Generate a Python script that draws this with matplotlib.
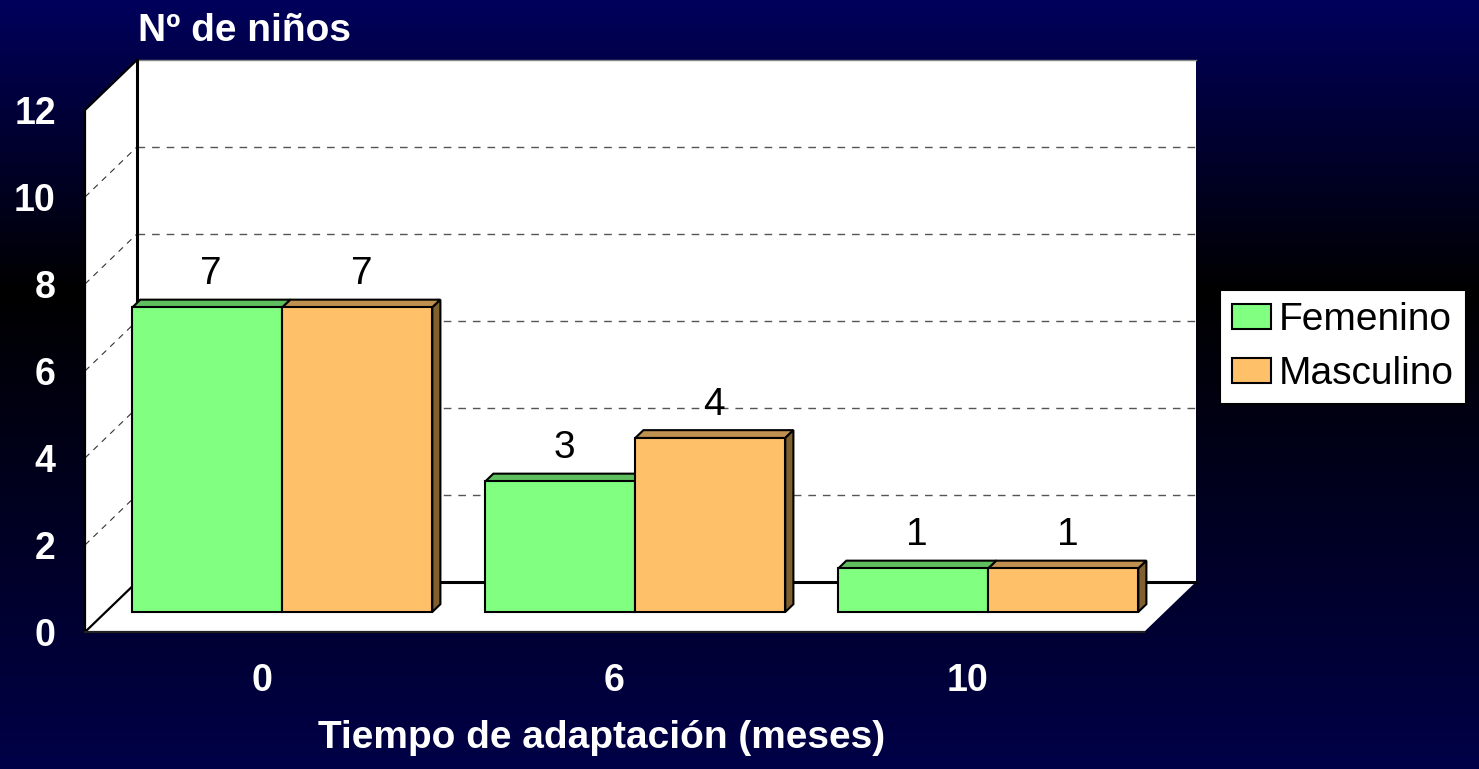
import matplotlib
matplotlib.use('Agg')
import matplotlib.pyplot as plt
import numpy as np
from matplotlib.patches import Polygon, Rectangle, Patch

plt.rcParams['font.family'] = ['Liberation Sans', 'DejaVu Sans']

# data
categories = ['0', '6', '10']
femenino = [7, 3, 1]
masculino = [7, 4, 1]
series_names = ['Femenino', 'Masculino']
y_ticks = [0, 2, 4, 6, 8, 10, 12]

# colours
green_front, green_top = '#80ff80', '#5fbf5f'
orange_front, orange_top, orange_side = '#ffc06a', '#c09050', '#80602f'

W, H = 1479, 769
fig = plt.figure(figsize=(W / 100, H / 100), dpi=100)

# background gradient: navy -> black -> navy
bg = fig.add_axes([0, 0, 1, 1], zorder=-10)
rows = np.arange(H)
blue = np.interp(rows, [0, 290, 769], [0x5c, 0x00, 0x48]) / 255
grad = np.zeros((H, 1, 3))
grad[:, 0, 2] = blue
bg.imshow(grad, aspect='auto', extent=[0, 1, 0, 1], origin='upper')
bg.axis('off')

# main axes covers the front plane of the 3d box
ax = fig.add_axes([85 / W, (H - 632) / H, 1059 / W, 522 / H])
ax.set_xlim(-0.5, 2.5)
ax.set_ylim(0, 12)
ax.patch.set_visible(False)
for s in ax.spines.values():
    s.set_visible(False)

# depth of the box in data units
DX, DY = 0.147, 1.15
bdx, bdy = 0.4 * DX, 0.4 * DY      # bars sit part way back
tdx, tdy = 0.023, 0.18             # thickness of the bars
w = 0.425
x0, x1 = -0.5, 2.5

# back wall, left wall, floor
ax.add_patch(Rectangle((x0 + DX, DY), x1 - x0, 12, facecolor='white',
                       edgecolor='none', zorder=1, clip_on=False))
ax.add_patch(Polygon([(x0, 0), (x0, 12), (x0 + DX, 12 + DY), (x0 + DX, DY)],
                     closed=True, facecolor='white', edgecolor='none', zorder=1,
                     clip_on=False))
ax.add_patch(Polygon([(x0, 0), (x1, 0), (x1 + DX, DY), (x0 + DX, DY)],
                     closed=True, facecolor='white', edgecolor='none', zorder=1,
                     clip_on=False))

# gridlines on back and left walls
for v in y_ticks[1:-1]:
    ax.plot([x0 + DX, x1 + DX], [v + DY, v + DY], color='#555555', lw=1,
            dashes=(5.5, 5), zorder=2, clip_on=False)
    ax.plot([x0, x0 + DX], [v, v + DY], color='#333333', lw=0.8,
            dashes=(5.5, 5), zorder=2, clip_on=False)

# box edges
ax.plot([x0 + DX, x1 + DX], [12 + DY, 12 + DY], color='#888888', lw=1,
        zorder=2, clip_on=False)
ax.plot([x0 + DX, x0 + DX, x1 + DX], [12 + DY, DY, DY], color='black', lw=2.2,
        zorder=2, solid_capstyle='projecting', clip_on=False)
ax.plot([x0 + DX, x0, x0, x0 + DX], [12 + DY, 12, 0, DY], color='black', lw=1.6,
        zorder=2, clip_on=False)
ax.plot([x0, x1], [0, 0], color='#222222', lw=1.6, zorder=2, clip_on=False)

x = np.arange(len(categories))

# bars (front faces) via ax.bar
gx = x - w / 2 + bdx
ox = x + w / 2 + bdx
ax.bar(gx, femenino, width=w, bottom=bdy, color=green_front, edgecolor='black',
       linewidth=1.5, zorder=5, clip_on=False)
ax.bar(ox, masculino, width=w, bottom=bdy, color=orange_front, edgecolor='black',
       linewidth=1.5, zorder=5, clip_on=False)

# top and side faces
for cx, v, ftop in list(zip(gx, femenino, [green_top] * 3)) + \
        list(zip(ox, masculino, [orange_top] * 3)):
    l, r = cx - w / 2, cx + w / 2
    t = v + bdy
    ax.add_patch(Polygon([(l, t), (l + tdx, t + tdy), (r + tdx, t + tdy), (r, t)],
                         closed=True, facecolor=ftop, edgecolor='black',
                         linewidth=1.5, zorder=4, clip_on=False))
for cx, v in zip(ox, masculino):
    r = cx + w / 2
    t = v + bdy
    ax.add_patch(Polygon([(r, bdy), (r + tdx, bdy + tdy), (r + tdx, t + tdy), (r, t)],
                         closed=True, facecolor=orange_side, edgecolor='black',
                         linewidth=1.5, zorder=4, clip_on=False))

# value labels
for cx, v in list(zip(gx, femenino)) + list(zip(ox, masculino)):
    ax.text(cx + tdx / 2, v + bdy + tdy + 0.35, str(v), ha='center',
            va='baseline', fontsize=28, color='black', zorder=6)

# ticks
ax.set_yticks(y_ticks)
ax.set_yticklabels([str(t) for t in y_ticks], fontsize=27, fontweight='bold',
                   color='white')
ax.set_xticks(x)
ax.set_xticklabels(categories, fontsize=27, fontweight='bold', color='white')
ax.tick_params(axis='y', length=0, pad=21)
ax.tick_params(axis='x', length=0, pad=22)

# titles
fig.text(138 / W, 1 - 31 / H, 'Nº de niños', fontsize=28, fontweight='bold',
         color='white', ha='left', va='center')
fig.text(602 / W, 1 - 738 / H, 'Tiempo de adaptación (meses)', fontsize=28,
         fontweight='bold', color='white', ha='center', va='center')

# legend
handles = [Patch(facecolor=green_front, edgecolor='black', linewidth=1.5),
           Patch(facecolor=orange_front, edgecolor='black', linewidth=1.5)]
leg = fig.legend(handles, series_names, loc='upper left',
                 bbox_to_anchor=(1220 / W, 1 - 290 / H), fontsize=28,
                 frameon=True, fancybox=False, framealpha=1, edgecolor='black',
                 handlelength=1.0, handleheight=0.6, handletextpad=0.18,
                 labelspacing=0.45, borderpad=0.32, borderaxespad=0)
leg.get_frame().set_linewidth(1.5)

fig.savefig('out.png', dpi=100)
